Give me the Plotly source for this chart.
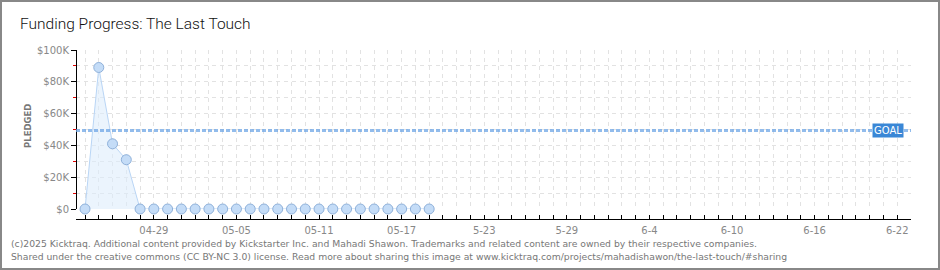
import plotly.graph_objects as go

# ---- data ----
dates = ["2025-04-24", "2025-04-25", "2025-04-26", "2025-04-27", "2025-04-28",
         "2025-04-29", "2025-04-30", "2025-05-01", "2025-05-02", "2025-05-03",
         "2025-05-04", "2025-05-05", "2025-05-06", "2025-05-07", "2025-05-08",
         "2025-05-09", "2025-05-10", "2025-05-11", "2025-05-12", "2025-05-13",
         "2025-05-14", "2025-05-15", "2025-05-16", "2025-05-17", "2025-05-18",
         "2025-05-19"]
pledged = [0, 89000, 41000, 31000, 0,
           0, 0, 0, 0, 0,
           0, 0, 0, 0, 0,
           0, 0, 0, 0, 0,
           0, 0, 0, 0, 0,
           0]
goal = 49400
x_tick_vals = ["2025-04-29", "2025-05-05", "2025-05-11", "2025-05-17", "2025-05-23",
               "2025-05-29", "2025-06-04", "2025-06-10", "2025-06-16", "2025-06-22"]
x_tick_text = ["04-29", "05-05", "05-11", "05-17", "5-23", "5-29", "6-4", "6-10", "6-16", "6-22"]
y_tick_vals = [0, 20000, 40000, 60000, 80000, 100000]
y_tick_text = ["$0", "$20K", "$40K", "$60K", "$80K", "$100K"]
y_minor_vals = [10000, 30000, 50000, 70000, 90000]

W, H = 940, 270
L, R, T, B = 76, 29, 50, 51
PW, PH = W - L - R, H - T - B


def px(x):
    return (x - L) / PW


def py(y):
    return (H - B - y) / PH


fig = go.Figure()
fig.add_trace(go.Scatter(
    x=dates, y=pledged, mode="lines+markers",
    line=dict(color="#b9d5f5", width=1),
    fill="tozeroy", fillcolor="rgba(222,236,252,0.6)",
    marker=dict(size=10, color="#c4dcf7", line=dict(color="#8fb1da", width=1)),
    hoverinfo="skip", showlegend=False, cliponaxis=False,
))
# invisible trace on the tick axis so it is drawn
fig.add_trace(go.Scatter(x=[dates[0]], y=[0], xaxis="x2", mode="markers",
                         marker=dict(opacity=0), hoverinfo="skip", showlegend=False))

grid_dash = "4px,4px"
x_range = ["2025-04-23 08:18", "2025-06-23"]
fig.update_layout(
    width=W, height=H,
    margin=dict(l=L, r=R, t=T, b=B),
    paper_bgcolor="white", plot_bgcolor="white",
    title=dict(text="Funding Progress: The Last Touch", xref="container", yref="container",
               x=20 / W, xanchor="left", y=1 - 24 / H, yanchor="middle",
               font=dict(family="Roboto", size=15.5, color="#111", weight=300)),
    xaxis=dict(
        type="date", range=x_range, anchor="y",
        tickvals=x_tick_vals, ticktext=x_tick_text, showticklabels=False, ticks="",
        showline=False,
        showgrid=True, gridcolor="#e2e2e2", griddash=grid_dash, gridwidth=1,
        minor=dict(dtick=86400000, tick0="2025-04-24", ticks="",
                   showgrid=True, gridcolor="#e2e2e2", griddash=grid_dash),
        zeroline=False, fixedrange=True,
    ),
    xaxis2=dict(
        type="date", range=x_range, overlaying="x", matches="x",
        anchor="free", position=0,
        tickvals=x_tick_vals, ticktext=x_tick_text,
        ticks="inside", ticklen=4, tickcolor="#000", tickwidth=1, ticklabelstandoff=2,
        showline=True, linecolor="#000", linewidth=1, showgrid=False,
        minor=dict(dtick=86400000, tick0="2025-04-24", ticks="inside", ticklen=4,
                   tickcolor="#000", showgrid=False),
        tickfont=dict(family="DejaVu Sans", size=10, color="#888"),
        zeroline=False, fixedrange=True,
    ),
    yaxis=dict(
        range=[0, 100000], domain=[10 / PH, 1],
        anchor="free", position=0,
        tickvals=y_tick_vals, ticktext=y_tick_text,
        ticks="outside", ticklen=5, tickcolor="#000", tickwidth=1,
        showline=True, linecolor="#000", linewidth=1,
        showgrid=True, gridcolor="#e2e2e2", griddash=grid_dash,
        minor=dict(tickvals=y_minor_vals, ticks="outside", ticklen=3,
                   tickcolor="#e00000", showgrid=True, gridcolor="#e2e2e2", griddash=grid_dash),
        tickfont=dict(family="DejaVu Sans", size=10, color="#888"),
        zeroline=False, fixedrange=True,
    ),
)

# goal line
fig.add_shape(type="line", xref="paper", yref="y", x0=0, x1=1, y0=goal, y1=goal,
              line=dict(color="rgba(110,165,230,0.75)", width=3, dash="4px,2px"))
fig.add_annotation(xref="paper", yref="y", x=px(888), y=goal, text="GOAL", showarrow=False,
                   bgcolor="#3a87d6", font=dict(family="DejaVu Sans", size=10, color="white"),
                   borderpad=1, xanchor="center", yanchor="middle")

# y-axis label
fig.add_annotation(xref="paper", yref="paper", x=px(28), y=py(126), text="<b>PLEDGED</b>",
                   textangle=-90, showarrow=False, xanchor="center", yanchor="middle",
                   font=dict(family="DejaVu Sans", size=8.5, color="#777"))

# footer
footer1 = ("(c)2025 Kicktraq. Additional content provided by Kickstarter Inc. and Mahadi Shawon. "
           "Trademarks and related content are owned by their respective companies.")
footer2 = ("Shared under the creative commons (CC BY-NC 3.0) license. Read more about sharing this "
           "image at www.kicktraq.com/projects/mahadishawon/the-last-touch/#sharing")
for txt, yy in [(footer1, 243), (footer2, 256)]:
    fig.add_annotation(xref="paper", yref="paper", x=px(9), y=py(yy), text=txt, showarrow=False,
                       xanchor="left", yanchor="middle",
                       font=dict(family="DejaVu Sans", size=9.25, color="#777"))

# border
fig.add_shape(type="rect", xref="paper", yref="paper", x0=px(1), x1=px(W - 1), y0=py(H - 1), y1=py(1),
              line=dict(color="#888", width=2), fillcolor="rgba(0,0,0,0)", layer="above")

fig.write_html("out.html")
